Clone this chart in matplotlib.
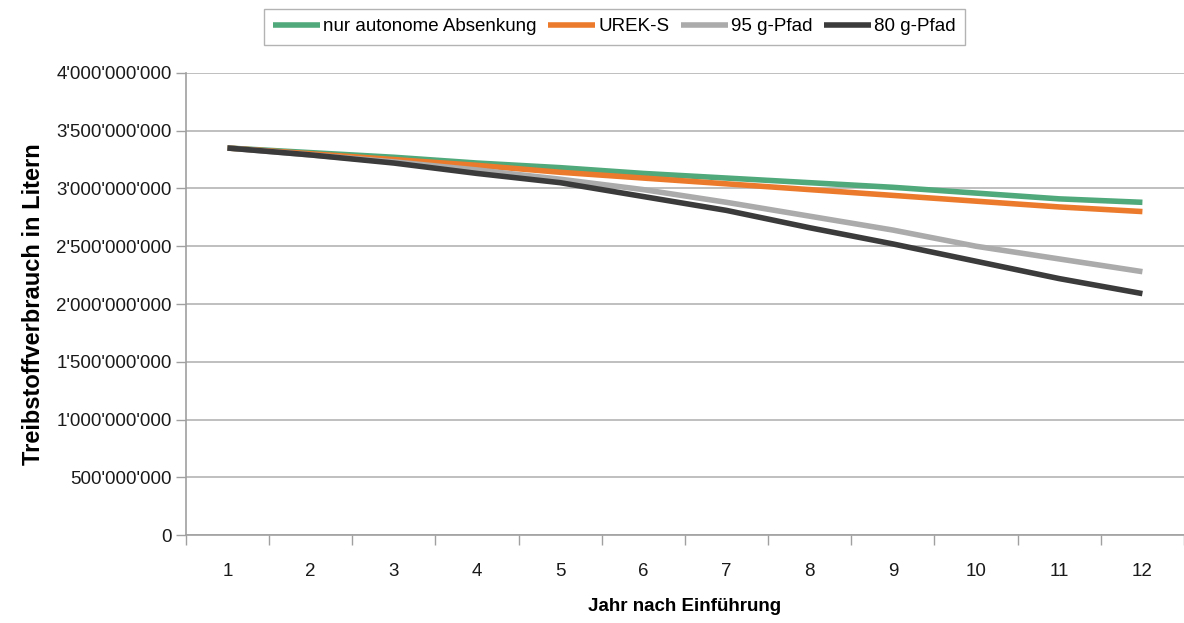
import matplotlib
matplotlib.use("Agg")
import matplotlib.pyplot as plt
from matplotlib.ticker import FuncFormatter, FixedLocator, NullFormatter

plt.rcParams['font.family'] = ['Liberation Sans', 'DejaVu Sans']

years = [1, 2, 3, 4, 5, 6, 7, 8, 9, 10, 11, 12]
nur_autonome = [3.35e9, 3.31e9, 3.27e9, 3.22e9, 3.18e9, 3.13e9, 3.09e9, 3.05e9, 3.01e9, 2.96e9, 2.91e9, 2.88e9]
urek_s = [3.35e9, 3.30e9, 3.25e9, 3.20e9, 3.14e9, 3.09e9, 3.04e9, 2.99e9, 2.94e9, 2.89e9, 2.84e9, 2.80e9]
pfad_95 = [3.35e9, 3.29e9, 3.23e9, 3.16e9, 3.08e9, 2.99e9, 2.88e9, 2.76e9, 2.64e9, 2.50e9, 2.39e9, 2.28e9]
pfad_80 = [3.35e9, 3.29e9, 3.22e9, 3.13e9, 3.05e9, 2.93e9, 2.81e9, 2.66e9, 2.52e9, 2.37e9, 2.22e9, 2.09e9]
series_labels = ["nur autonome Absenkung", "UREK-S", "95 g-Pfad", "80 g-Pfad"]
colors = ["#4fa97b", "#ec7a2c", "#ababab", "#3b3b3b"]

fig = plt.figure(figsize=(11.84, 6.23), dpi=100)
ax = fig.add_axes([0.157, 0.141, 0.843, 0.742])

x = list(range(len(years)))
for vals, lab, c in zip([nur_autonome, urek_s, pfad_95, pfad_80], series_labels, colors):
    ax.plot(x, vals, color=c, lw=4.0, label=lab, solid_capstyle='butt', solid_joinstyle='round')

ax.set_xlim(-0.5, len(years) - 0.5)
ax.set_ylim(0, 4e9)
ax.set_yticks([i * 5e8 for i in range(9)])

def fmt(v, pos):
    s = f"{int(round(v)):,}".replace(",", "'")
    return s
ax.yaxis.set_major_formatter(FuncFormatter(fmt))

ax.set_xticks(x)
ax.set_xticklabels([str(y) for y in years])
ax.xaxis.set_minor_locator(FixedLocator([i - 0.5 for i in range(len(years) + 1)]))
ax.xaxis.set_minor_formatter(NullFormatter())
ax.tick_params(axis='x', which='major', length=0, pad=20, labelsize=13.5, colors='#1a1a1a')
ax.tick_params(axis='x', which='minor', length=7, width=1, color='#a0a0a0', direction='out')
ax.tick_params(axis='y', which='major', length=7, width=1, color='#a0a0a0', direction='out', pad=3, labelsize=13.5, labelcolor='#1a1a1a')

ax.grid(axis='y', color='#b4b4b4', lw=1.2)
ax.set_axisbelow(True)
for s in ['top', 'right']:
    ax.spines[s].set_visible(False)
ax.spines['left'].set_color('#a0a0a0')
ax.spines['bottom'].set_color('#a0a0a0')
ax.spines['left'].set_linewidth(1.2)
ax.spines['bottom'].set_linewidth(1.2)

ax.set_xlabel("Jahr nach Einführung", fontsize=13.5, fontweight='bold', labelpad=13)
ax.set_ylabel("Treibstoffverbrauch in Litern", fontsize=17, fontweight='bold', labelpad=8)

leg = fig.legend(loc='center', bbox_to_anchor=(0.519, 0.957), ncol=4, frameon=True,
                 fancybox=False, edgecolor='#a0a0a0', fontsize=13.5, handlelength=2.5,
                 handletextpad=0.18, columnspacing=0.6, borderpad=0.5)
leg.get_frame().set_linewidth(1.0)

fig.savefig("out.png", dpi=100)
